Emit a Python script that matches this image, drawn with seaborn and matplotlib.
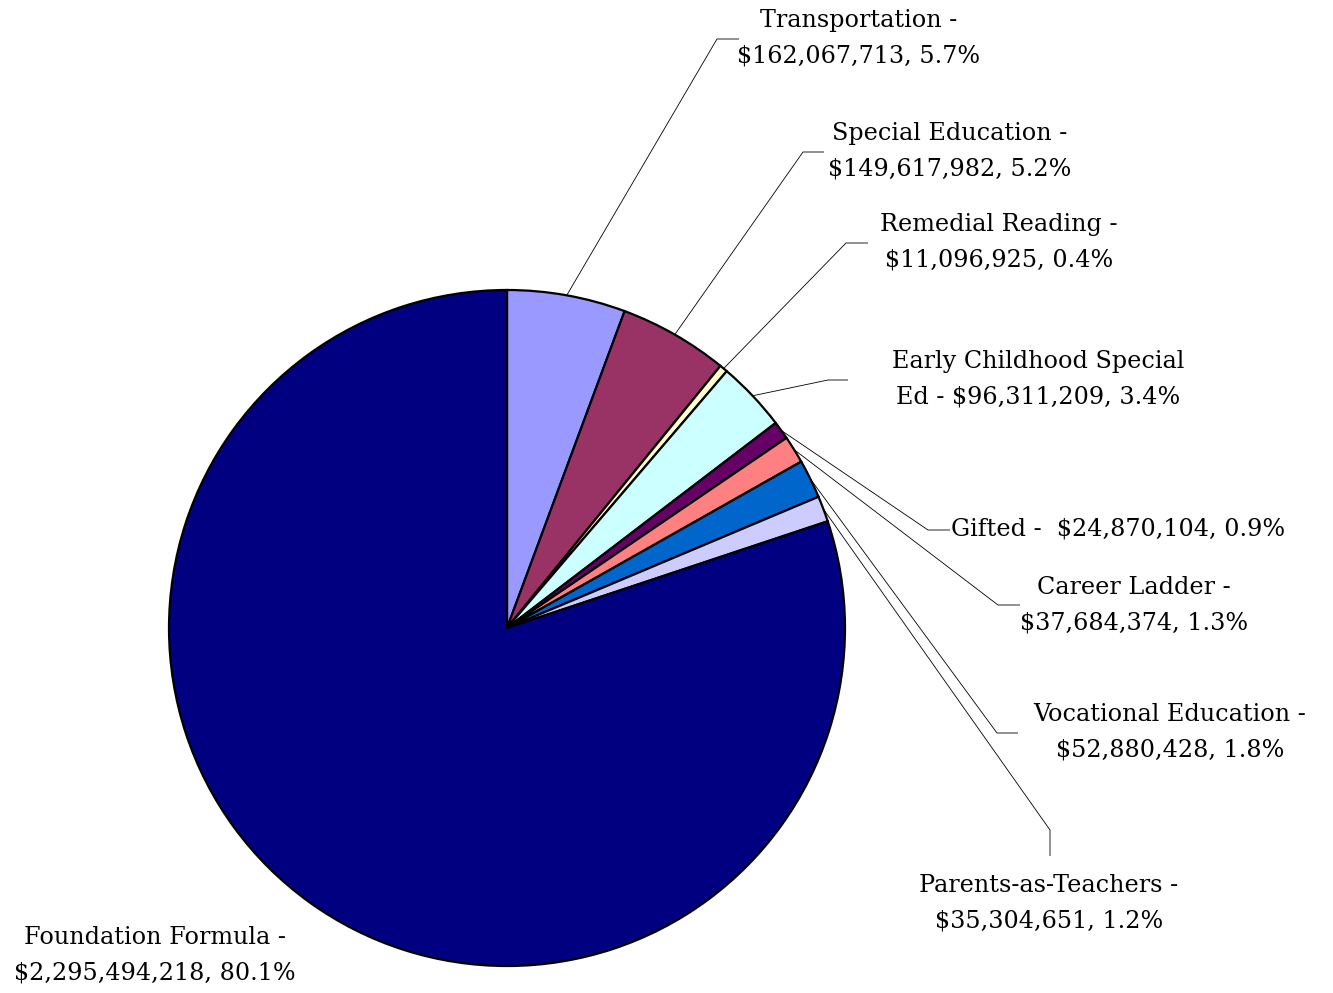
import matplotlib

matplotlib.use("Agg")
import matplotlib.pyplot as plt
import numpy as np
import seaborn as sns

# slices, clockwise from 12 o'clock
names = [
    "Transportation",
    "Special Education",
    "Remedial Reading",
    "Early Childhood Special\nEd",
    "Gifted",
    "Career Ladder",
    "Vocational Education",
    "Parents-as-Teachers",
    "Foundation Formula",
]
amounts = [
    162067713,
    149617982,
    11096925,
    96311209,
    24870104,
    37684374,
    52880428,
    35304651,
    2295494218,
]
separators = [" -\n", " -\n", " -\n", " - ", " -  ", " -\n", " -\n", " -\n", " -\n"]
colors = [
    "#9999FF",
    "#993366",
    "#FFFFCC",
    "#CCFFFF",
    "#660066",
    "#FF8080",
    "#0066CC",
    "#CCCCFF",
    "#000080",
]

# layout in pixels (from top-left): label anchor, elbow point, alignment
W, H = 1333, 993
CX, CY, R = 507, 628, 338
label_layout = [
    # (text x, text y, ha, elbow x, elbow y, line end x, line end y)
    (859, 38, "center", 717, 39, 739, 39),
    (950, 151, "center", 803, 152, 824, 152),
    (999, 242, "center", 846, 243, 868, 243),
    (1038, 379, "center", 828, 380, 848, 380),
    (951, 529, "left", 928, 530, 950, 530),
    (1134, 605, "center", 998, 605, 1020, 605),
    (1170, 732, "center", 997, 733, 1018, 733),
    (1049, 903, "center", 1050, 830, 1050, 856),
    (155, 955, "center", None, None, None, None),
]


def fy(y):
    return H - y


def main() -> None:
    sns.set_theme(style="white")
    plt.rcParams["font.family"] = ["DejaVu Serif"]

    fig = plt.figure(figsize=(W / 100, H / 100), dpi=100)
    ax = fig.add_axes([0, 0, 1, 1])

    values = np.array(amounts, dtype=float)
    pcts = values / values.sum() * 100

    wedges, _ = ax.pie(
        values,
        colors=colors,
        startangle=90,
        counterclock=False,
        center=(CX, fy(CY)),
        radius=R,
        frame=True,
        wedgeprops=dict(edgecolor="black", linewidth=1.6),
    )
    ax.set_xlim(0, W)
    ax.set_ylim(0, H)
    ax.set_aspect("equal")
    ax.axis("off")

    for w, name, amt, pct, sep, lay in zip(
        wedges, names, amounts, pcts, separators, label_layout
    ):
        tx, ty, ha, ex, ey, lx, ly = lay
        label = f"{name}{sep}${amt:,}, {pct:.1f}%"
        ax.text(
            tx,
            fy(ty),
            label,
            ha=ha,
            va="center",
            fontsize=17.2,
            color="black",
            linespacing=1.7,
        )
        if ex is None:
            continue
        mid = np.deg2rad((w.theta1 + w.theta2) / 2)
        px = CX + R * np.cos(mid)
        py = fy(CY) + R * np.sin(mid)
        ax.plot(
            [px, ex, lx],
            [py, fy(ey), fy(ly)],
            color="black",
            linewidth=0.6,
            solid_capstyle="butt",
        )

    fig.savefig("out.png", dpi=100, facecolor="white")


if __name__ == "__main__":
    main()
